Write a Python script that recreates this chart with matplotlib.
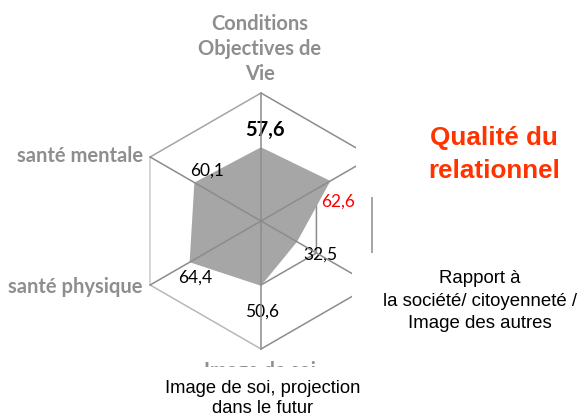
import numpy as np
import matplotlib
matplotlib.use("Agg")
import matplotlib.pyplot as plt
from matplotlib.patches import Rectangle

# Radar data (scores out of 100), clockwise from the top axis
categories = [
    "Conditions Objectives de Vie",
    "Qualité du relationnel",
    "Rapport à la société/ citoyenneté / Image des autres",
    "Image de soi, projection dans le futur",
    "santé physique",
    "santé mentale",
]
values = [57.6, 62.6, 32.5, 50.6, 64.4, 60.1]
rings = [50, 100]
r_max = 100

W, H = 582, 417
fig = plt.figure(figsize=(W / 100, H / 100), dpi=100)
fig.patch.set_facecolor("white")


def fx(x):
    return x / W


def fy(y):
    return 1 - y / H


# polar axes: centre (261, 221) px, radius 128 px
cx, cy, rad = 261, 221, 128
ax = fig.add_axes([fx(cx - rad), fy(cy + rad), 2 * rad / W, 2 * rad / H],
                  projection="polar")
ax.set_theta_offset(np.pi / 2)
ax.set_theta_direction(-1)
ax.set_ylim(0, r_max)
ax.set_xticks([])
ax.set_yticks([])
ax.grid(False)
ax.spines["polar"].set_visible(False)
ax.patch.set_visible(False)

n = len(values)
theta = np.arange(n) * 2 * np.pi / n
theta_c = np.append(theta, theta[0])
vals_c = np.append(values, values[0])

grid_col = "#8c8c8c"
# inner ring (under the filled area)
ax.plot(theta_c, [rings[0]] * (n + 1), color=grid_col, lw=1.1, zorder=1,
        clip_on=False)

# filled data polygon
ax.fill(theta_c, vals_c, color="#a6a6a6", lw=0, zorder=2)

# outer hexagon, edges shaded lighter on the left side
edge_cols = ["#8c8c8c", "#8c8c8c", "#8c8c8c", "#b8b8b8", "#cacaca", "#a4a4a4"]
for i in range(n):
    ax.plot([theta[i], theta[(i + 1) % n]], [rings[1], rings[1]],
            color=edge_cols[i], lw=1.1, zorder=3, clip_on=False,
            solid_capstyle="round")

# spokes
for t in theta:
    ax.plot([t, t], [0, r_max], color=grid_col, lw=1.1, zorder=4,
            clip_on=False)

# value labels
lab_off = [(3.5, 17), (8, -20.5), (23, -13), (1, -26), (6, -15), (13, 11.5)]
lab_col = ["black", "#ff0000", "black", "black", "black", "black"]
lab_wt = ["bold", "normal", "normal", "normal", "normal", "normal"]
lab_fs = [14.5, 12.5, 12.5, 12.5, 12.5, 12.5]
for t, v, off, c, wt, fs in zip(theta, values, lab_off, lab_col, lab_wt, lab_fs):
    ax.annotate(f"{v:.1f}".replace(".", ","), xy=(t, v), xytext=off,
                textcoords="offset pixels", ha="center", va="center",
                color=c, fontweight=wt, fontsize=fs, family="Lato",
                zorder=3.5, annotation_clip=False)

# category labels drawn by the chart
axis_col = "#8e8e8e"
axis_fs = 14.5
for line, yb in zip(["Conditions", "Objectives de", "Vie"], [29.5, 55, 80.5]):
    fig.text(fx(260), fy(yb), line, ha="center", va="baseline",
             color=axis_col, fontsize=axis_fs, fontweight="bold", family="Lato")
fig.text(fx(143), fy(162), categories[5], ha="right", va="baseline",
         color=axis_col, fontsize=axis_fs, fontweight="bold", family="Lato")
fig.text(fx(143), fy(293), categories[4], ha="right", va="baseline",
         color=axis_col, fontsize=axis_fs, fontweight="bold", family="Lato")
fig.text(fx(260), fy(377), "Image de soi", ha="center", va="baseline",
         color=axis_col, fontsize=axis_fs, fontweight="bold", family="Lato")

# white text boxes laid over the chart
def box(x0, y0, x1, y1):
    fig.add_artist(Rectangle((fx(x0), fy(y1)), (x1 - x0) / W, (y1 - y0) / H,
                             transform=fig.transFigure, facecolor="white",
                             edgecolor="none", zorder=10))


box(356, 95, W, 197)
box(352, 253, W, 345)
box(140, 367, 390, H)

title_col = "#ff3300"
for line, yb in zip(["Qualité du", "relationnel"], [145, 178]):
    fig.text(fx(494), fy(yb), line, ha="center", va="baseline",
             color=title_col, fontsize=18.7, fontweight="bold",
             family="Liberation Sans", zorder=11)

for line, yb in zip(["Rapport à", "la société/ citoyenneté /", "Image des autres"],
                    [283, 306, 328]):
    fig.text(fx(480), fy(yb), line, ha="center", va="baseline",
             color="black", fontsize=13.4, family="Liberation Sans", zorder=11)

for line, yb in zip(["Image de soi, projection", "dans le futur"], [393, 413]):
    fig.text(fx(263), fy(yb), line, ha="center", va="baseline",
             color="black", fontsize=13.2, family="Liberation Sans", zorder=11)

fig.savefig("out.png", dpi=100, facecolor="white")
